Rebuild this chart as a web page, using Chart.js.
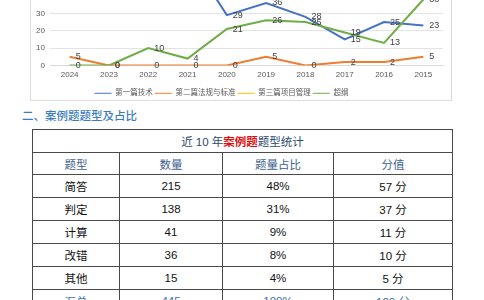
<!DOCTYPE html>
<html>
<head>
<meta charset="utf-8">
<script src="https://cdn.jsdelivr.net/npm/chart.js@4"></script>
<style>
  html, body { margin: 0; padding: 0; background: #fff; overflow: hidden; width: 484px; height: 300px; }
  #card { position: absolute; left: 30px; top: -90px; width: 422px; height: 191px; border: 1px solid #dcdcdc; box-sizing: border-box; }
  #wrap { position: absolute; left: 0; top: -74px; width: 484px; height: 181px; }
  h2 { position: absolute; left: 22px; top: 107px; margin: 0; font: 500 11.5px "Noto Sans CJK SC", sans-serif; color: #3a7cc0; }
  table { position: absolute; left: 32px; top: 129px; width: 420px; border-collapse: collapse; table-layout: fixed;
          font: 11.5px "Liberation Sans", "Noto Sans CJK SC", sans-serif; color: #111; }
  td { border: 1px solid #4a4a4a; text-align: center; padding: 0; height: 22px; }
  .title td { color: #2c4a6e; font-size: 11.5px; }
  .title b { color: #e01010; }
  .head td { color: #3f6391; }
  .total td { color: #3a6fb0; }
</style>
</head>
<body>
<div id="card"></div>
<div id="wrap"><canvas id="c"></canvas></div>
<h2>二、案例题题型及占比</h2>
<table id="tbl"></table>
<script>
// ===== Chart data =====
const years = ['2024', '2023', '2022', '2021', '2020', '2019', '2018', '2017', '2016', '2015'];
const tech = [48, 52, 45, 64, 29, 36, 28, 15, 25, 23];     // 第一篇技术 (2024-2021 above the visible part)
const law = [5, 0, 0, 0, 0, 5, 0, 2, 2, 5];                // 第二篇法规与标准
const pm = [null, null, null, null, null, null, null, null, null, null]; // 第三篇项目管理
const outline = [0, 0, 10, 4, 21, 26, 25, 19, 13, 38];     // 超纲

// ===== Table data =====
const headers = ['题型', '数量', '题量占比', '分值'];
const types = ['简答', '判定', '计算', '改错', '其他'];
const counts = [215, 138, 41, 36, 15];
const shares = ['48%', '31%', '9%', '8%', '4%'];
const scores = ['57 分', '37 分', '11 分', '10 分', '5 分'];
const total = ['汇总', 445, '100%', '120 分'];

// data labels to the right of each point
const pointLabels = {
  id: 'pointLabels',
  afterDatasetsDraw(chart) {
    const ctx = chart.ctx;
    ctx.save();
    ctx.font = '9px "Liberation Sans", sans-serif';
    ctx.fillStyle = '#404040';
    ctx.textAlign = 'left';
    ctx.textBaseline = 'middle';
    chart.data.datasets.forEach((ds, i) => {
      const meta = chart.getDatasetMeta(i);
      meta.data.forEach((pt, j) => {
        const v = ds.data[j];
        if (v == null) return;
        ctx.fillText(String(v), pt.x + 6, pt.y);
      });
    });
    ctx.restore();
  }
};

const font = '"Liberation Sans", "Noto Sans CJK SC", sans-serif';

new Chart(document.getElementById('c'), {
  type: 'line',
  data: {
    labels: years,
    datasets: [
      { label: '第一篇技术', data: tech, borderColor: '#4472c4', backgroundColor: '#4472c4', order: 3 },
      { label: '第二篇法规与标准', data: law, borderColor: '#ed7d31', backgroundColor: '#ed7d31', order: 2 },
      { label: '第三篇项目管理', data: pm, borderColor: '#ffc000', backgroundColor: '#ffc000', order: 1 },
      { label: '超纲', data: outline, borderColor: '#70ad47', backgroundColor: '#70ad47', order: 0 }
    ]
  },
  options: {
    responsive: true,
    maintainAspectRatio: false,
    animation: false,
    elements: { line: { borderWidth: 2, tension: 0 }, point: { radius: 0, hoverRadius: 0 } },
    layout: { padding: { left: 0, right: 41, top: 18, bottom: 0 } },
    plugins: {
      tooltip: { enabled: false },
      legend: {
        position: 'bottom',
        labels: {
          usePointStyle: true,
          pointStyle: 'line',
          pointStyleWidth: 17,
          padding: 2,
          color: '#595959',
          font: { size: 7.5, family: font },
          sort: (a, b) => a.datasetIndex - b.datasetIndex
        }
      }
    },
    scales: {
      x: {
        offset: true,
        afterFit: s => { s.height = 22; },
        grid: { display: false, drawTicks: false },
        border: { color: '#d9d9d9' },
        ticks: { color: '#595959', padding: 4, font: { size: 8, family: font } }
      },
      y: {
        min: 0, max: 70,
        afterFit: s => { s.width = 50; },
        grid: { color: '#e3e3e3', drawTicks: false },
        border: { display: false },
        ticks: { stepSize: 10, color: '#595959', padding: 5, font: { size: 8, family: font } }
      }
    }
  },
  plugins: [pointLabels]
});

// ===== Table =====
function buildTable() {
  const tbl = document.getElementById('tbl');
  let html = '<colgroup><col style="width:87px"><col style="width:103px"><col style="width:111px"><col style="width:119px"></colgroup>';
  html += '<tr class="title"><td colspan="4" style="height:22px">近 10 年<b>案例题</b>题型统计</td></tr>';
  html += '<tr class="head">' + headers.map(h => `<td style="height:21px">${h}</td>`).join('') + '</tr>';
  types.forEach((t, i) => {
    html += `<tr><td>${t}</td><td>${counts[i]}</td><td>${shares[i]}</td><td>${scores[i]}</td></tr>`;
  });
  html += '<tr class="total">' + total.map(v => `<td>${v}</td>`).join('') + '</tr>';
  tbl.innerHTML = html;
}
buildTable();
</script>
</body>
</html>
